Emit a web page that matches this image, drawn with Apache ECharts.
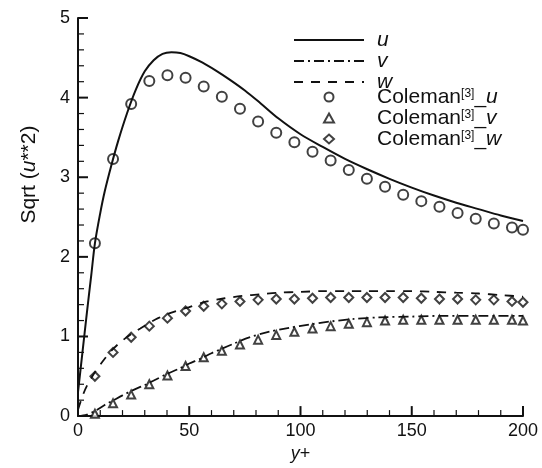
<!DOCTYPE html>
<html>
<head>
<meta charset="utf-8">
<script src="https://cdn.jsdelivr.net/npm/echarts@6/dist/echarts.min.js"></script>
<style>
html,body{margin:0;padding:0;background:#fff;}
#c{width:542px;height:468px;}
</style>
</head>
<body>
<div id="c"></div>
<script>
// ---- data ----
var xTicks = [0, 50, 100, 150, 200];
var yTicks = [0, 1, 2, 3, 4, 5];
var xMinorTicks = [10, 20, 30, 40, 60, 70, 80, 90, 110, 120, 130, 140, 160, 170, 180, 190];
var yMinorTicks = [0.2, 0.4, 0.6, 0.8, 1.2, 1.4, 1.6, 1.8, 2.2, 2.4, 2.6, 2.8, 3.2, 3.4, 3.6, 3.8, 4.2, 4.4, 4.6, 4.8];

var uLineX = [0, 2, 4, 6, 7.6, 10, 12, 15, 18, 22, 26, 30, 34, 38, 42, 46, 50, 56, 62, 68, 75, 82, 90, 100, 110, 120, 130, 140, 150, 160, 170, 180, 190, 200];
var uLineY = [0.3, 0.8, 1.3, 1.78, 2.17, 2.55, 2.82, 3.15, 3.45, 3.8, 4.1, 4.33, 4.47, 4.55, 4.57, 4.56, 4.52, 4.44, 4.34, 4.23, 4.09, 3.93, 3.74, 3.54, 3.38, 3.23, 3.10, 2.98, 2.87, 2.77, 2.68, 2.60, 2.52, 2.45];

var vLineX = [0, 4, 8, 12, 16, 20, 25, 30, 35, 40, 45, 50, 55, 60, 65, 70, 77, 86, 95, 104, 114, 124, 135, 150, 165, 180, 200];
var vLineY = [0, 0.02, 0.07, 0.14, 0.2, 0.26, 0.33, 0.39, 0.46, 0.53, 0.59, 0.66, 0.72, 0.79, 0.85, 0.91, 0.99, 1.06, 1.11, 1.15, 1.19, 1.22, 1.24, 1.25, 1.26, 1.26, 1.26];

var wLineX = [0, 2, 4, 7.6, 12, 16, 20, 24, 28, 32, 36, 41, 50, 58, 66, 74, 82, 90, 100, 110, 120, 130, 140, 150, 160, 170, 180, 190, 200];
var wLineY = [0.08, 0.25, 0.38, 0.55, 0.72, 0.85, 0.95, 1.03, 1.10, 1.17, 1.23, 1.29, 1.37, 1.44, 1.48, 1.51, 1.53, 1.55, 1.56, 1.57, 1.57, 1.57, 1.57, 1.57, 1.56, 1.55, 1.54, 1.52, 1.50];

var markerX = [7.6, 15.75, 23.9, 32.05, 40.2, 48.35, 56.5, 64.65, 72.8, 80.95, 89.1, 97.25, 105.4, 113.55, 121.7, 129.85, 138.0, 146.15, 154.3, 162.45, 170.6, 178.75, 186.9, 195.05, 200];
var colemanU = [2.17, 3.23, 3.92, 4.21, 4.28, 4.25, 4.14, 4.01, 3.86, 3.70, 3.56, 3.44, 3.32, 3.21, 3.09, 2.98, 2.88, 2.78, 2.70, 2.63, 2.55, 2.48, 2.42, 2.37, 2.34];
var colemanV = [0.03, 0.16, 0.27, 0.40, 0.51, 0.63, 0.74, 0.82, 0.90, 0.96, 1.02, 1.06, 1.10, 1.13, 1.16, 1.18, 1.20, 1.21, 1.21, 1.21, 1.21, 1.21, 1.21, 1.21, 1.20];
var colemanW = [0.50, 0.80, 0.99, 1.13, 1.23, 1.32, 1.38, 1.41, 1.44, 1.46, 1.47, 1.47, 1.48, 1.49, 1.49, 1.49, 1.49, 1.49, 1.48, 1.47, 1.47, 1.46, 1.46, 1.44, 1.43];

function zip(xs, ys) { return xs.map(function (x, i) { return [x, ys[i]]; }); }

var FONT = 'Liberation Sans, Arial, Helvetica, sans-serif';
var INK = '#111';

// tick table: [value, kind]  kind 0 = x major, 1 = x minor, 2 = y major, 3 = y minor
var tickData = [];
xTicks.forEach(function (v) { if (v !== xTicks[0]) tickData.push([v, 0]); });
xMinorTicks.forEach(function (v) { tickData.push([v, 1]); });
yTicks.forEach(function (v) { if (v !== yTicks[0]) tickData.push([v, 2]); });
yMinorTicks.forEach(function (v) { tickData.push([v, 3]); });

var chart = echarts.init(document.getElementById('c'));

function renderTick(params, api) {
  var v = api.value(0), kind = api.value(1);
  var isX = kind < 2, major = (kind === 0 || kind === 2);
  var len = major ? 10 : 6, th = major ? 2 : 1.2;
  var p;
  if (isX) {
    p = api.coord([v, yTicks[0]]);
    return {type: 'rect', silent: true,
      shape: {x: p[0] - th / 2, y: p[1] - len, width: th, height: len},
      style: {fill: INK}};
  }
  p = api.coord([xTicks[0], v]);
  return {type: 'rect', silent: true,
    shape: {x: p[0], y: p[1] - th / 2, width: len, height: th},
    style: {fill: INK}};
}

var option = {
  animation: false,
  backgroundColor: '#fff',
  grid: {left: 78, right: 19, top: 18, bottom: 44},
  xAxis: {
    type: 'value', min: xTicks[0], max: xTicks[xTicks.length - 1], interval: 50,
    name: '{i|y}+', nameLocation: 'middle', nameGap: 14,
    nameTextStyle: {color: INK, fontSize: 18, fontFamily: FONT, rich: {i: {fontStyle: 'italic', fontSize: 18, fontFamily: FONT, color: INK}}},
    axisLabel: {color: INK, fontSize: 18, fontFamily: FONT, margin: 6},
    axisLine: {show: true, onZero: false, lineStyle: {color: INK, width: 2}},
    axisTick: {show: false},
    splitLine: {show: false}
  },
  yAxis: {
    type: 'value', min: yTicks[0], max: yTicks[yTicks.length - 1], interval: 1,
    name: 'Sqrt ({i|u}**2)', nameLocation: 'middle', nameGap: 38,
    nameTextStyle: {color: INK, fontSize: 21, fontFamily: FONT, padding: [0, 0, 0, 85],
      rich: {i: {fontStyle: 'italic', fontSize: 21, fontFamily: FONT, color: INK}}},
    axisLabel: {color: INK, fontSize: 18, fontFamily: FONT, margin: 8},
    axisLine: {show: true, onZero: false, lineStyle: {color: INK, width: 2}},
    axisTick: {show: false},
    splitLine: {show: false}
  },
  legend: [
    {
      data: [
        {name: 'u', itemStyle: {opacity: 0}},
        {name: 'v', itemStyle: {opacity: 0}},
        {name: 'w', itemStyle: {opacity: 0}}
      ],
      orient: 'vertical', left: 293, top: 29.5, padding: 0,
      itemWidth: 70, itemHeight: 14, itemGap: 0,
      selectedMode: false,
      formatter: function (n) { return '{i|' + n + '}'; },
      textStyle: {color: INK, fontSize: 21, fontFamily: FONT, lineHeight: 19,
        rich: {i: {fontStyle: 'italic', fontSize: 21, fontFamily: FONT, color: INK, lineHeight: 19, padding: [0, 0, 0, 8]}}}
    },
    {
      data: ['Coleman_u', 'Coleman_v', 'Coleman_w'],
      orient: 'vertical', left: 323, top: 86.5, padding: 0,
      itemWidth: 10, itemHeight: 9, itemGap: 0,
      selectedMode: false,
      formatter: function (n) { return '{c|Coleman}{s|[3]}{c2|_}{i|' + n.slice(-1) + '}'; },
      textStyle: {color: INK, fontSize: 21, fontFamily: FONT, lineHeight: 19,
        rich: {
          c: {fontSize: 21, fontFamily: FONT, color: INK, lineHeight: 19, padding: [0, 0, 0, 38]},
          s: {fontSize: 12, fontFamily: FONT, color: INK, lineHeight: 19, verticalAlign: 'top', padding: [0, 0, 8, 0]},
          c2: {fontSize: 21, fontFamily: FONT, color: INK, lineHeight: 19},
          i: {fontStyle: 'italic', fontSize: 21, fontFamily: FONT, color: INK, lineHeight: 19}
        }}
    }
  ],
  series: [
    {name: 'ticks', type: 'custom', data: tickData, renderItem: renderTick, clip: false, silent: true, z: 5,
      encode: {x: -1, y: -1}, tooltip: {show: false}},
    {name: 'Coleman_u', type: 'scatter', data: zip(markerX, colemanU), symbol: 'emptyCircle', symbolSize: 10,
      itemStyle: {color: INK, borderColor: INK, borderWidth: 1.8}},
    {name: 'Coleman_v', type: 'scatter', data: zip(markerX, colemanV), symbol: 'emptyTriangle', symbolSize: 8,
      itemStyle: {color: INK, borderColor: INK, borderWidth: 1.8}},
    {name: 'Coleman_w', type: 'scatter', data: zip(markerX, colemanW), symbol: 'emptyDiamond', symbolSize: 9,
      itemStyle: {color: INK, borderColor: INK, borderWidth: 1.8}},
    {name: 'u', type: 'line', data: zip(uLineX, uLineY), symbol: 'none', showSymbol: false, smooth: 0.3,
      lineStyle: {color: INK, width: 2, type: 'solid'}, itemStyle: {color: INK}},
    {name: 'v', type: 'line', data: zip(vLineX, vLineY), symbol: 'none', showSymbol: false, smooth: 0.3,
      lineStyle: {color: INK, width: 1.8, type: [10, 4, 2, 4]}, itemStyle: {color: INK}},
    {name: 'w', type: 'line', data: zip(wLineX, wLineY), symbol: 'none', showSymbol: false, smooth: 0.3,
      lineStyle: {color: INK, width: 1.8, type: [9, 8]}, itemStyle: {color: INK}}
  ]
};
chart.setOption(option);
</script>
</body>
</html>
